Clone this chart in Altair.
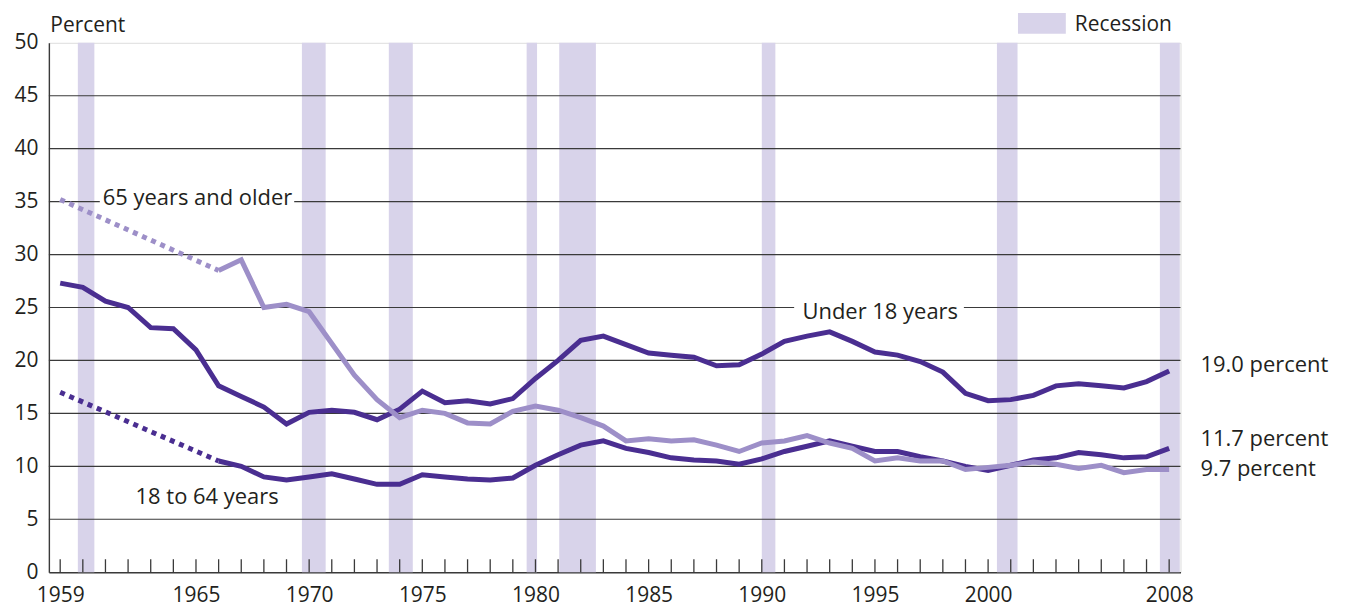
import altair as alt
import pandas as pd

# ---------------- data ----------------
years = list(range(1959, 2009))
under18 = [27.3, 26.9, 25.6, 25.0, 23.1, 23.0, 21.0, 17.6, 16.6, 15.6,
           14.0, 15.1, 15.3, 15.1, 14.4, 15.4, 17.1, 16.0, 16.2, 15.9,
           16.4, 18.3, 20.0, 21.9, 22.3, 21.5, 20.7, 20.5, 20.3, 19.5,
           19.6, 20.6, 21.8, 22.3, 22.7, 21.8, 20.8, 20.5, 19.9, 18.9,
           16.9, 16.2, 16.3, 16.7, 17.6, 17.8, 17.6, 17.4, 18.0, 19.0]

years_solid = list(range(1966, 2009))
age18_64 = [10.5, 10.0, 9.0, 8.7, 9.0, 9.3, 8.8, 8.3, 8.3, 9.2,
            9.0, 8.8, 8.7, 8.9, 10.1, 11.1, 12.0, 12.4, 11.7, 11.3,
            10.8, 10.6, 10.5, 10.2, 10.7, 11.4, 11.9, 12.4, 11.9, 11.4,
            11.4, 10.9, 10.5, 10.0, 9.6, 10.1, 10.6, 10.8, 11.3, 11.1,
            10.8, 10.9, 11.7]
age65 = [28.5, 29.5, 25.0, 25.3, 24.6, 21.6, 18.6, 16.3, 14.6, 15.3,
         15.0, 14.1, 14.0, 15.2, 15.7, 15.3, 14.6, 13.8, 12.4, 12.6,
         12.4, 12.5, 12.0, 11.4, 12.2, 12.4, 12.9, 12.2, 11.7, 10.5,
         10.8, 10.5, 10.5, 9.7, 9.9, 10.1, 10.4, 10.2, 9.8, 10.1,
         9.4, 9.7, 9.7]

# gap years (no annual data 1960-1965) drawn dotted
dotted_years = [1959, 1966]
dotted_18_64 = [17.0, 10.5]
dotted_65 = [35.2, 28.5]

rec_start = [1959.78, 1969.68, 1973.52, 1979.61, 1981.05, 1990.0, 2000.39, 2007.59]
rec_end = [1960.51, 1970.73, 1974.58, 1980.07, 1982.67, 1990.6, 2001.3, 2008.47]

x_label_years = [1959, 1965, 1970, 1975, 1980, 1985, 1990, 1995, 2000, 2008]
y_ticks = [0, 5, 10, 15, 20, 25, 30, 35, 40, 45, 50]
grid_vals = [5, 10, 15, 20, 25, 30, 35, 40, 45]

series_labels = ["65 years and older", "Under 18 years", "18 to 64 years"]
series_label_x = [1960.88, 1991.8, 1962.33]
series_label_y = [34.68, 23.95, 6.43]

gap_y = [35, 25]
gap_x1 = [1960.75, 1991.43]
gap_x2 = [1969.34, 1998.93]

end_labels = ["19.0 percent", "11.7 percent", "9.7 percent"]
end_label_y = [18.93, 11.92, 9.1]

# ---------------- styling ----------------
W, H = 1135, 531
DARK = "#4a2e91"
LIGHT = "#9d8fc8"
REC = "#d8d3ea"
GRID = "#3a3a3a"
TXT = "#231f20"
FONT = "Open Sans"

xs = alt.Scale(domain=[1958.5, 2008.5], nice=False, zero=False)
ys = alt.Scale(domain=[0, 50], nice=False)

rec_df = pd.DataFrame({"start": rec_start, "end": rec_end})
recession = alt.Chart(rec_df).mark_rect(color=REC).encode(
    x=alt.X("start:Q", scale=xs,
            axis=alt.Axis(values=x_label_years, format="d", ticks=False, tickSize=0,
                          grid=False, domain=True, domainColor=GRID, domainWidth=1.6,
                          labelFontSize=21, labelColor=TXT, labelPadding=12,
                          labelFont=FONT, title=None)),
    x2="end:Q",
    y=alt.Y("y0:Q", scale=ys,
            axis=alt.Axis(values=y_ticks, ticks=False, tickSize=0, grid=False,
                          domain=True, domainColor=GRID, domainWidth=1.4,
                          labelFontSize=21, labelColor=TXT, labelPadding=11,
                          labelFont=FONT, title="Percent", titleAngle=0,
                          titleAlign="left", titleBaseline="alphabetic",
                          titleX=1, titleY=-11, titleFontSize=21,
                          titleFontWeight="normal", titleColor=TXT, titleFont=FONT)),
    y2="y1:Q",
).transform_calculate(y0="0", y1="50")

grid_df = pd.DataFrame({"v": grid_vals})
grid = alt.Chart(grid_df).mark_rule(color=GRID, strokeWidth=1.2).encode(
    y=alt.Y("v:Q", scale=ys)
)

gap_df = pd.DataFrame({"y": gap_y, "x1": gap_x1, "x2": gap_x2})
gaps = alt.Chart(gap_df).mark_rect(color="white").encode(
    x=alt.X("x1:Q", scale=xs), x2="x2:Q",
    y=alt.Y("ylo:Q", scale=ys), y2="yhi:Q",
).transform_calculate(ylo="datum.y - 0.45", yhi="datum.y + 0.45")

tick_df = pd.DataFrame({"year": years})
ticks = alt.Chart(tick_df).mark_rule(color=GRID, strokeWidth=1.3).encode(
    x=alt.X("year:Q", scale=xs),
    y=alt.value(H), y2=alt.value(H - 13),
)

solid_df = pd.concat([
    pd.DataFrame({"year": years, "value": under18, "series": "Under 18 years"}),
    pd.DataFrame({"year": years_solid, "value": age18_64, "series": "18 to 64 years"}),
    pd.DataFrame({"year": years_solid, "value": age65, "series": "65 years and older"}),
])
dot_df = pd.concat([
    pd.DataFrame({"year": dotted_years, "value": dotted_18_64, "series": "18 to 64 years"}),
    pd.DataFrame({"year": dotted_years, "value": dotted_65, "series": "65 years and older"}),
])
color_scale = alt.Scale(domain=["Under 18 years", "18 to 64 years", "65 years and older"],
                        range=[DARK, DARK, LIGHT])

solid = alt.Chart(solid_df).mark_line(strokeWidth=5, strokeJoin="miter").encode(
    x=alt.X("year:Q", scale=xs),
    y=alt.Y("value:Q", scale=ys),
    color=alt.Color("series:N", scale=color_scale, legend=None),
    detail="series:N",
)
dotted = alt.Chart(dot_df).mark_line(strokeWidth=5, strokeDash=[5, 5], strokeCap="butt").encode(
    x=alt.X("year:Q", scale=xs),
    y=alt.Y("value:Q", scale=ys),
    color=alt.Color("series:N", scale=color_scale, legend=None),
    detail="series:N",
)

lab_df = pd.DataFrame({"t": series_labels, "x": series_label_x, "y": series_label_y})
labels = alt.Chart(lab_df).mark_text(align="left", baseline="alphabetic", fontSize=22,
                                     font=FONT, color=TXT).encode(
    x=alt.X("x:Q", scale=xs), y=alt.Y("y:Q", scale=ys), text="t:N"
)

end_df = pd.DataFrame({"t": end_labels, "y": end_label_y})
end_text = alt.Chart(end_df).mark_text(align="left", baseline="alphabetic", fontSize=22,
                                       font=FONT, color=TXT).encode(
    x=alt.value(W + 20), y=alt.Y("y:Q", scale=ys), text="t:N"
)

leg_df = pd.DataFrame({"t": ["Recession"]})
leg_rect = alt.Chart(leg_df).mark_rect(color=REC).encode(
    x=alt.value(972), x2=alt.value(1020), y=alt.value(-30), y2=alt.value(-9)
)
leg_text = alt.Chart(leg_df).mark_text(align="left", baseline="alphabetic", fontSize=21,
                                       font=FONT, color=TXT).encode(
    x=alt.value(1029), y=alt.value(-12), text="t:N"
)

chart = alt.layer(
    recession, grid, gaps, ticks, solid, dotted, labels, end_text, leg_rect, leg_text
).properties(
    width=W, height=H,
    autosize=alt.AutoSizeParams(type="none"),
    padding={"left": 41, "top": 34, "right": 160, "bottom": 36},
).configure_view(
    stroke=GRID, strokeWidth=1.3
).configure(font=FONT, background="white")

chart.save("out.html", embed_options={"renderer": "svg", "actions": False})
